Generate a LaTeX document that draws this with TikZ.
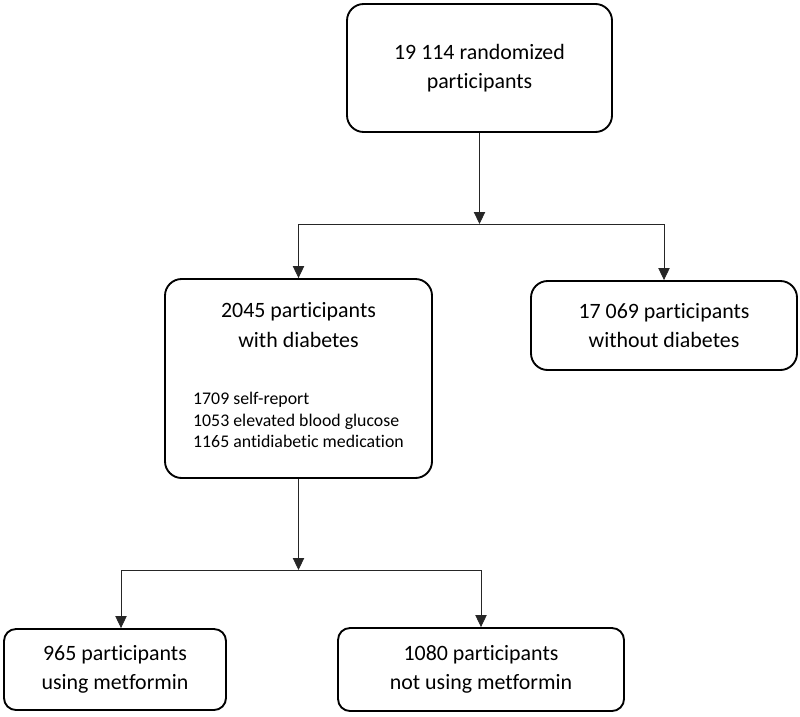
\documentclass[tikz,border=0pt]{standalone}
\usepackage{fontspec}
\setmainfont{Carlito}[Ligatures=NoCommon]
\usetikzlibrary{positioning,arrows.meta}

\begin{document}
\begin{tikzpicture}[->,>={Triangle[length=0.36cm,width=0.34cm]},line width=0.7pt,draw=black!85,auto]
			\tikzstyle{box}=[draw=black,line width=1.6pt,rounded corners=0.5cm,align=center,font=\fontsize{18.7}{25}\selectfont]
			\tikzstyle{smallbox}=[box,rounded corners=0.36cm]
			\useasboundingbox (0,0) rectangle (24,-21.48);
			\node[box,minimum width=7.95cm,minimum height=3.84cm]    (rand) at (14.385,-2.04)   {19 114 randomized\\participants};
			\coordinate[below of=rand,node distance=4.68cm]    (split1);
			\node[box,minimum width=8.01cm,minimum height=5.97cm]    (diab)[below of=rand,node distance=9.315cm,xshift=-5.43cm]
				{2045 participants\\with diabetes\\[0.85cm]{\fontsize{15.2}{18.4}\selectfont\begin{tabular}[t]{@{}l@{}}1709 self-report\\1053 elevated blood glucose\\1165 antidiabetic medication\end{tabular}}};
			\node[box,minimum width=7.98cm,minimum height=2.67cm]    (nodiab)[below of=rand,node distance=7.725cm,xshift=5.535cm]   {17 069 participants\\without diabetes};
			\coordinate[below of=diab,node distance=5.745cm]    (split2);
			\node[smallbox,minimum width=6.66cm,minimum height=2.43cm]    (met)[below of=diab,node distance=8.73cm,xshift=-5.505cm]   {965 participants\\using metformin};
			\node[smallbox,minimum width=8.58cm,minimum height=2.49cm]    (nomet)[below of=diab,node distance=8.73cm,xshift=5.475cm]   {1080 participants\\not using metformin};
			\path
			(rand.south) edge (split1)
			(diab.south) edge (split2);
			\draw (split1) -| (diab);
			\draw (split1) -| (nodiab);
			\draw (split2) -| ([xshift=0.18cm]met.north);
			\draw (split2) -| (nomet);
		\end{tikzpicture}
\end{document}
